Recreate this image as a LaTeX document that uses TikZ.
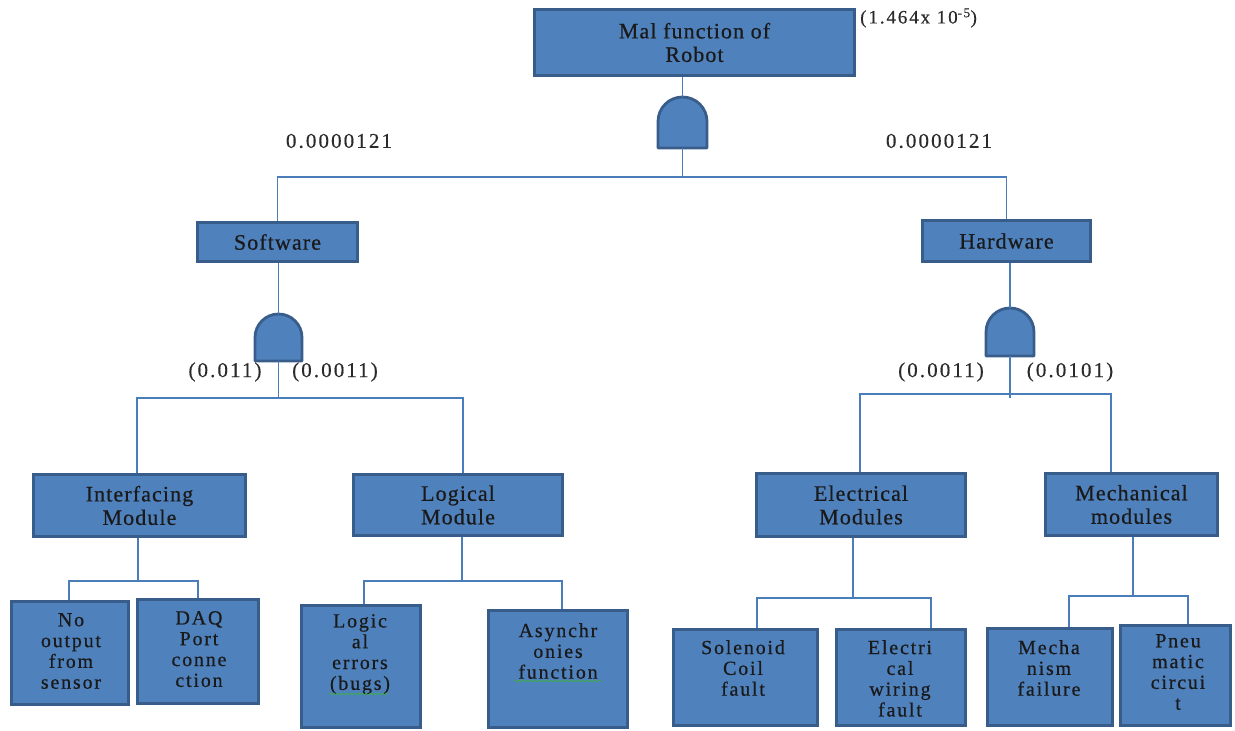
\documentclass[tikz,border=0pt]{standalone}
\usepackage{fontspec}
\setmainfont{Liberation Serif}
\newfontfamily\boxfont{Liberation Serif}[LetterSpace=5,FakeBold=0.6]
\newfontfamily\leaffont{Liberation Serif}[LetterSpace=9,FakeBold=0.6]
\newfontfamily\labfont{Liberation Serif}[LetterSpace=10,FakeBold=0.4]
\usetikzlibrary{decorations.pathmorphing}
\definecolor{boxfill}{HTML}{4F81BD}
\definecolor{boxline}{HTML}{385D8A}
\definecolor{wirecol}{HTML}{4A7EBB}
\definecolor{txt}{HTML}{1A1A1A}
\definecolor{labtxt}{HTML}{2A2A2A}
\definecolor{squig}{HTML}{3CB043}
\begin{document}
\begin{tikzpicture}[x=1pt,y=1pt,
  box/.style={draw=boxline, fill=boxfill, line width=3.5pt, inner sep=0pt, text=txt, align=center,
              font=\boxfont\fontsize{22}{23.5}\selectfont},
  leaftext/.style={anchor=north, inner sep=0pt, text=txt, align=center, font=\leaffont\fontsize{20}{20.8}\selectfont},
  wire/.style={draw=wirecol, line width=1.6pt},
  gateshape/.style={draw=boxline, fill=boxfill, line width=2.8pt, line join=round},
  prob/.style={inner sep=0pt, text=labtxt, font=\labfont\fontsize{21}{22}\selectfont},
  squiggle/.style={draw=squig, line width=0.7pt, decorate, decoration={snake, amplitude=0.9pt, segment length=4pt}}
]
\useasboundingbox (0,0) rectangle (1235,731);

% boxes
\node[box, minimum width=320pt, minimum height=66pt] (top) at (694.5,688.5) {Mal function of\\Robot};
\node[box, minimum width=160pt, minimum height=39pt] (soft) at (277.5,489) {Software};
\node[box, minimum width=168pt, minimum height=41pt] (hard) at (1006.5,490) {Hardware};
\node[box, minimum width=212pt, minimum height=62pt] (intf) at (139.5,225.5) {Interfacing\\Module};
\node[box, minimum width=209pt, minimum height=61pt] (logm) at (458,226) {Logical\\Module};
\node[box, minimum width=209pt, minimum height=63pt] (elec) at (861,226) {Electrical\\Modules};
\node[box, minimum width=172pt, minimum height=62pt] (mech) at (1131.5,226.5) {Mechanical\\modules};

\node[box, minimum width=117pt, minimum height=103pt] (noout) at (70,78) {};
\node[box, minimum width=121pt, minimum height=104pt] (daq) at (198,79.5) {};
\node[box, minimum width=119pt, minimum height=122pt] (logic) at (361,64.5) {};
\node[box, minimum width=139pt, minimum height=117pt] (async) at (558,62) {};
\node[box, minimum width=144pt, minimum height=96pt] (sol) at (745.5,53.5) {};
\node[box, minimum width=129pt, minimum height=96pt] (wiring) at (901,53.5) {};
\node[box, minimum width=125pt, minimum height=97pt] (mecha) at (1050,54) {};
\node[box, minimum width=110pt, minimum height=100pt] (pneu) at (1175.5,55.5) {};

% leaf texts
\node[leaftext] (nooutT) at (71,118) {No\\output\\from\\sensor};
\node[leaftext] (daqT) at (199,120) {DAQ\\Port\\conne\\ction};
\node[leaftext] (logicT) at (360,117) {Logic\\al\\errors\\(bugs)};
\node[leaftext] (asyncT) at (558,108) {Asynchr\\onies\\function};
\node[leaftext] (solT) at (743,91) {Solenoid\\Coil\\fault};
\node[leaftext] (wiringT) at (900,91) {Electri\\cal\\wiring\\fault};
\node[leaftext] (mechaT) at (1049,91) {Mecha\\nism\\failure};
\node[leaftext] (pneuT) at (1178,97) {Pneu\\matic\\circui\\t};

% spelling squiggles
\draw[squiggle] (329,37) -- (388,37);
\draw[squiggle] (514,50) -- (602,50);

% gates
\draw[gateshape] (658,583) -- (658,609.5) arc[start angle=180,end angle=0,radius=24.5] -- (707,583) -- cycle;
\coordinate (g1t) at (682.5,634);
\coordinate (g1b) at (682.5,583);
\draw[gateshape] (255,370) -- (255,393.5) arc[start angle=180,end angle=0,radius=23.5] -- (302,370) -- cycle;
\coordinate (g2t) at (278.5,417);
\coordinate (g2b) at (278.5,370);
\draw[gateshape] (986,375) -- (986,399) arc[start angle=180,end angle=0,radius=24] -- (1034,375) -- cycle;
\coordinate (g3t) at (1010,423);
\coordinate (g3b) at (1010,375);

% bus coordinates
\coordinate (bus1) at (682.5,554);
\coordinate (bus2) at (278.5,333);
\coordinate (bus3) at (1010,337);
\coordinate (bus4) at (138,150);
\coordinate (bus5) at (462,150);
\coordinate (bus6) at (853,133);
\coordinate (bus7) at (1133,135);
\coordinate (x137) at (137,0);
\coordinate (x463) at (463,0);
\coordinate (x860) at (860,0);
\coordinate (x1111) at (1111,0);
\coordinate (x69) at (69,0);
\coordinate (x198) at (198,0);
\coordinate (x364) at (364,0);
\coordinate (x562) at (562,0);
\coordinate (x757) at (757,0);
\coordinate (x931) at (931,0);
\coordinate (x1069) at (1069,0);
\coordinate (x1188) at (1188,0);

% connectors
\draw[wire] (top.south -| g1t) -- (g1t);
\draw[wire] (g1b) -- (bus1);
\draw[wire] (soft.north) |- (bus1) -| (hard.north);
\draw[wire] (soft.south -| g2t) -- (g2t);
\draw[wire] (g2b) -- (bus2);
\draw[wire] (x137 |- intf.north) |- (bus2) -| (x463 |- logm.north);
\draw[wire] (hard.south -| g3t) -- (g3t);
\draw[wire] (g3b) -- ([yshift=-4pt]bus3);
\draw[wire] (x860 |- elec.north) |- (bus3) -| (x1111 |- mech.north);
\draw[wire] (intf.south -| bus4) -- (bus4);
\draw[wire] (x69 |- noout.north) |- (bus4) -| (x198 |- daq.north);
\draw[wire] (logm.south -| bus5) -- (bus5);
\draw[wire] (x364 |- logic.north) |- (bus5) -| (x562 |- async.north);
\draw[wire] (elec.south -| bus6) -- (bus6);
\draw[wire] (x757 |- sol.north) |- (bus6) -| (x931 |- wiring.north);
\draw[wire] (mech.south -| bus7) -- (bus7);
\draw[wire] (x1069 |- mecha.north) |- (bus7) -| (x1188 |- pneu.north);

% probability labels
\node[prob, font=\labfont\fontsize{19}{20}\selectfont, anchor=west] (ptop) at (860,713) {(1.464x 10\textsuperscript{-5})};
\node[prob] (pl) at (339,590) {0.0000121};
\node[prob] (pr) at (939,590) {0.0000121};
\node[prob] (ps1) at (225,359) {(0.011)};
\node[prob] (ps2) at (335,359) {(0.0011)};
\node[prob] (ph1) at (941,359) {(0.0011)};
\node[prob] (ph2) at (1070,359) {(0.0101)};
\end{tikzpicture}
\end{document}
